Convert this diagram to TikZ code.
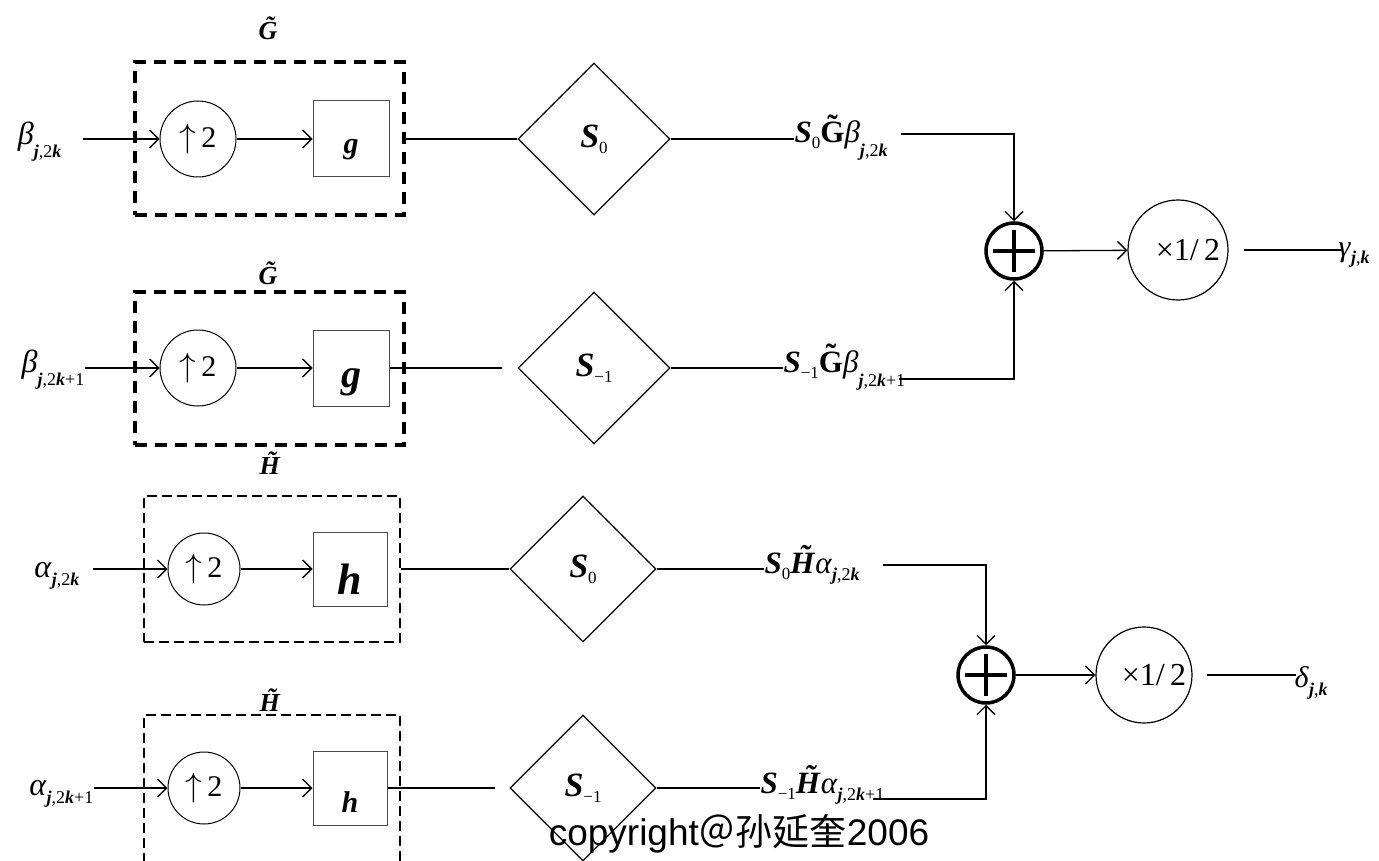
\documentclass[tikz,border=0pt]{standalone}
\usepackage{fontspec}
\setmainfont{Liberation Serif}
\setsansfont{Liberation Sans}
\newfontfamily\cjk{Noto Sans CJK SC}
\usepackage{graphicx}
\usepackage{tikz}
\usetikzlibrary{
	shapes.geometric,   %几何形状
	calc,               %计算
	positioning,        %定位
	arrows.meta         %提供各种箭头
}
\newcommand{\bi}[1]{\textbf{\textit{#1}}}
\newcommand{\dn}[2][12pt]{\raisebox{-#1}{\fontsize{18}{18}\selectfont #2}}
\newcommand{\sdn}[1]{\raisebox{-6pt}{\fontsize{17}{17}\selectfont #1}}
\newcommand{\tl}[1]{\accent"02DC #1}
\newcommand{\up}{\scalebox{1.35}{$\uparrow$}\,2}
\tikzstyle{upsample}=[circle, draw, line width=1pt, inner sep=0pt,
font=\fontsize{30}{30}\selectfont]
\tikzstyle{filter}=[rectangle, draw=black!70, line width=1pt, inner sep=0pt]
\tikzstyle{shiftop}=[diamond, draw, line width=1.3pt, inner sep=0pt, aspect=1,
font=\fontsize{34}{34}\selectfont]
\tikzstyle{adder}=[circle, draw, line width=3.5pt, minimum size=56pt, inner sep=0pt,
path picture={
	\draw[line width=4pt] ($(path picture bounding box.center)+(-21pt,0pt)$) -- ++(42pt,0pt);
	\draw[line width=4pt] ($(path picture bounding box.center)+(0pt,-21pt)$) -- ++(0pt,42pt);
}]
\tikzstyle{halfnode}=[circle, draw, line width=1.2pt, inner sep=0pt,
font=\fontsize{32}{32}\selectfont]
\tikzstyle{gbox}=[rectangle, draw, line width=3.5pt, dash pattern=on 12pt off 8pt]
\tikzstyle{hbox}=[rectangle, draw, line width=1.3pt, dash pattern=on 10pt off 5pt]
\tikzstyle{lab}=[inner sep=0pt, anchor=base west, font=\fontsize{31}{31}\selectfont]
\tikzstyle{inlab}=[inner sep=0pt, anchor=base east, font=\fontsize{32}{32}\selectfont]
\tikzstyle{toplab}=[inner sep=0pt, font=\fontsize{26}{26}\selectfont]
\tikzset{
	every picture/.style={
		>={Straight Barb[length=9pt,width=18pt]},
		line width=1.3pt
}}

\begin{document}
\begin{tikzpicture}[x=1pt,y=-1pt]
\useasboundingbox (0,0) rectangle (1379,861);
\clip (0,0) rectangle (1379,861);
% 第一行 beta_{j,2k}
\node[gbox, minimum width=269pt, minimum height=153pt] (boxB1) at (269.5,138.5) {};
\node[toplab] (tB1) at (268,28) {\bi{\tl{G}}};
\node[inlab] (inB1) at (62,145) {\textit{β}\dn[13pt]{\bi{j},2\bi{k}}};
\node[upsample, minimum size=76pt] (upB1) at (198,139) {\up};
\node[filter, minimum size=76pt, font=\fontsize{30}{30}\selectfont] (gB1) at (351,139) {\rule{0pt}{36pt}\bi{g}};
\node[shiftop, minimum size=152pt] (dB1) at (594,139) {\bi{S}\sdn{0}};
\node[lab] (oB1) at (794,143) {\bi{S}\sdn{0}\textbf{\tl{G}}\textit{β}\dn[14pt]{\bi{j},2\bi{k}}};
\coordinate (cB1) at (901,134);
% 第二行 beta_{j,2k+1}
\node[gbox, minimum width=269pt, minimum height=153pt] (boxB2) at (269.5,368.5) {};
\node[toplab] (tB2) at (268,273) {\bi{\tl{G}}};
\node[inlab] (inB2) at (85,372) {\textit{β}\dn[13pt]{\bi{j},2\bi{k}+1}};
\node[upsample, minimum size=76pt] (upB2) at (198,368) {\up};
\node[filter, minimum size=76pt, font=\fontsize{40}{40}\selectfont] (gB2) at (351,368) {\rule{0pt}{47pt}\bi{g}};
\node[shiftop, minimum size=152pt] (dB2) at (594,368) {\bi{S}\sdn{−1}};
\node[lab] (oB2) at (783,372) {\bi{S}\sdn{−1}\textbf{\tl{G}}\textit{β}\dn[14pt]{\bi{j},2\bi{k}+1}};
\coordinate (cB2) at (899,379);
% 第三行 alpha_{j,2k}
\node[hbox, minimum width=256pt, minimum height=146pt] (boxH1) at (272,569) {};
\node[toplab] (tH1) at (270,463) {\bi{\tl{H}}};
\node[inlab] (inH1) at (80,577) {\textit{α}\dn[8pt]{\bi{j},2\bi{k}}};
\node[upsample, minimum size=72pt] (upH1) at (204,569) {\up};
\node[filter, minimum size=74pt, font=\fontsize{44}{44}\selectfont] (hH1) at (350,569) {\rule{0pt}{50pt}\bi{h}};
\node[shiftop, minimum size=146pt] (dH1) at (583,569) {\bi{S}\sdn{0}};
\node[lab] (oH1) at (764,573) {\bi{S}\sdn{0}\bi{\tl{H}}\textit{α}\dn[7pt]{\bi{j},2\bi{k}}};
\coordinate (cH1) at (883,565);
% 第四行 alpha_{j,2k+1}
\node[hbox, minimum width=256pt, minimum height=160pt] (boxH2) at (272,795) {};
\node[toplab] (tH2) at (270,700) {\bi{\tl{H}}};
\node[inlab] (inH2) at (94,795) {\textit{α}\dn[8pt]{\bi{j},2\bi{k}+1}};
\node[upsample, minimum size=72pt] (upH2) at (204,788) {\up};
\node[filter, minimum size=74pt, font=\fontsize{30}{30}\selectfont] (hH2) at (350,788) {\rule{0pt}{48pt}\bi{h}};
\node[shiftop, minimum size=146pt] (dH2) at (583,788) {\bi{S}\sdn{−1}};
\node[lab] (oH2) at (760,793) {\bi{S}\sdn{−1}\bi{\tl{H}}\textit{α}\dn[7pt]{\bi{j},2\bi{k}+1}};
\coordinate (cH2) at (873,799);
% 求和与乘1/2
\node[adder] (sumG) at (1014,251) {};
\node[halfnode, minimum size=100pt] (mulG) at (1178,250) {\hspace{20pt}×1/\,2};
\node[lab, font=\fontsize{30}{30}\selectfont] (yG) at (1338,256) {\textit{γ}\dn[8pt]{\bi{j},\bi{k}}};
\node[adder] (sumH) at (986,675) {};
\node[halfnode, minimum size=96pt] (mulH) at (1144,675) {\hspace{20pt}×1/\,2};
\node[lab, font=\fontsize{30}{30}\selectfont] (yH) at (1294,687) {\textit{δ}\dn[8pt]{\bi{j},\bi{k}}};
% 连线
\draw[->, shorten <=21pt] (upB1.west -| inB1.east) -- (upB1.west);
\draw[->] (upB1) -- (gB1);
\draw (dB1.west -| boxB1.east) -- (dB1.west);
\draw (dB1.east) -- (dB1.east -| oB1.west);
\draw[->] (cB1) -| (sumG.north);
\draw[->] (upB2.west -| inB2.east) -- (upB2.west);
\draw[->] (upB2) -- (gB2);
\draw[shorten >=15pt] (gB2.east) -- (dB2.west);
\draw (dB2.east) -- (dB2.east -| oB2.west);
\draw[->] (cB2) -| (sumG.south);
\draw[->] (sumG) -- (mulG);
\draw[shorten <=15pt, shorten >=-5pt] (mulG.east) -- (mulG.east -| yG.west);
\draw[->, shorten <=13pt] (upH1.west -| inH1.east) -- (upH1.west);
\draw[->] (upH1) -- (hH1);
\draw (dH1.west -| boxH1.east) -- (dH1.west);
\draw (dH1.east) -- (dH1.east -| oH1.west);
\draw[->] (cH1) -| (sumH.north);
\draw[->] (upH2.west -| inH2.east) -- (upH2.west);
\draw[->] (upH2) -- (hH2);
\draw[shorten >=14pt] (hH2.east) -- (dH2.west);
\draw (dH2.east) -- (dH2.east -| oH2.west);
\draw[->] (cH2) -| (sumH.south);
\draw[->] (sumH) -- (mulH);
\draw[shorten <=14pt, shorten >=-2pt] (mulH.east) -- (mulH.east -| yH.west);
\node[inner sep=0pt, font=\sffamily\fontsize{37}{37}\selectfont] (cpy) at (739,834) {copyright{\cjk ＠孙延奎}2006};
\end{tikzpicture}
\end{document}
